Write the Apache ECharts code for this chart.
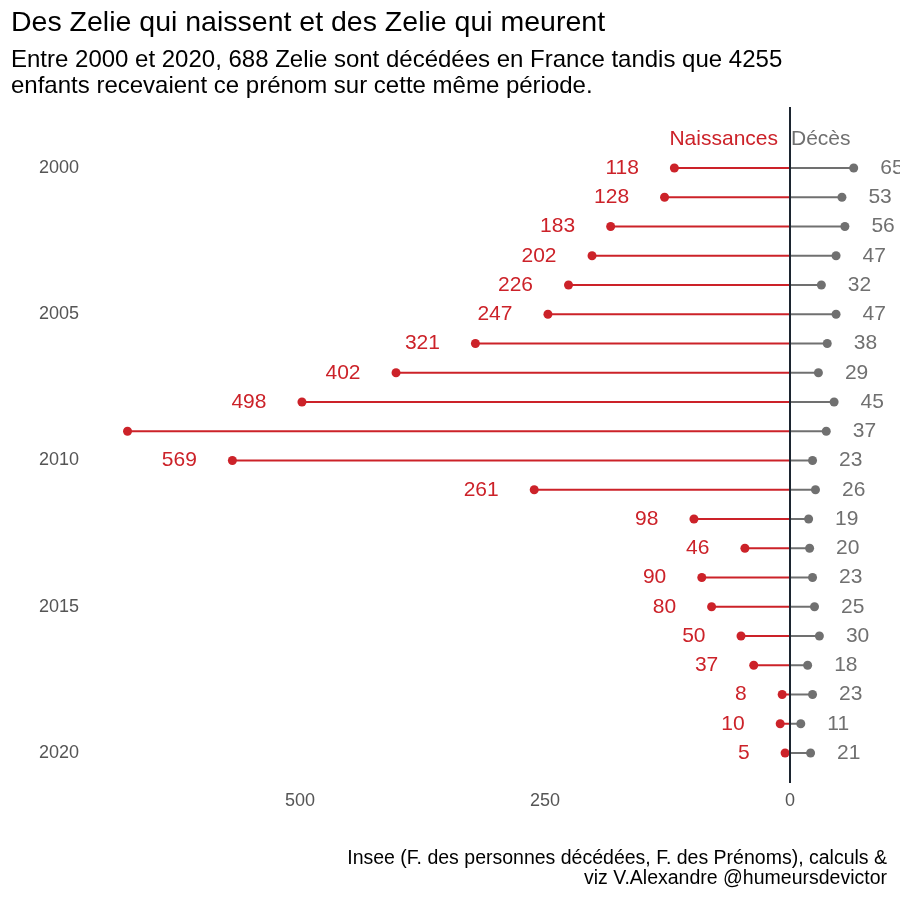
<!DOCTYPE html>
<html>
<head>
<meta charset="UTF-8">
<title>Zelie</title>
<script src="https://cdn.jsdelivr.net/npm/echarts@6/dist/echarts.min.js"></script>
<style>
  html, body { margin: 0; padding: 0; background: #fff; }
  #main { width: 900px; height: 900px; }
</style>
</head>
<body>
<div id="main"></div>
<script>
// donnees
var years = [2000, 2001, 2002, 2003, 2004, 2005, 2006, 2007, 2008, 2009, 2010,
             2011, 2012, 2013, 2014, 2015, 2016, 2017, 2018, 2019, 2020];
var naissances = [118, 128, 183, 202, 226, 247, 321, 402, 498, 676, 569,
                  261, 98, 46, 90, 80, 50, 37, 8, 10, 5];
var deces = [65, 53, 56, 47, 32, 47, 38, 29, 45, 37, 23,
             26, 19, 20, 23, 25, 30, 18, 23, 11, 21];
var yearTicks = [2000, 2005, 2010, 2015, 2020];
var xTicks = [-500, -250, 0];

var RED = '#cc2229';
var GREY = '#707070';
var FONT = '"Liberation Sans", Arial, sans-serif';

var myChart = echarts.init(document.getElementById('main'));

var segData = [];
var birthPts = [];
var deathPts = [];
for (var i = 0; i < years.length; i++) {
    segData.push([years[i], -naissances[i], deces[i]]);
    birthPts.push({
        value: [-naissances[i], years[i]],
        // le label qui sort du panneau est supprime (comme dans l'original)
        label: { show: naissances[i] < 600 }
    });
    deathPts.push([deces[i], years[i]]);
}

var option = {
    backgroundColor: '#fff',
    animation: false,
    title: {
        text: 'Des Zelie qui naissent et des Zelie qui meurent',
        subtext: 'Entre 2000 et 2020, 688 Zelie sont décédées en France tandis que 4255\nenfants recevaient ce prénom sur cette même période.',
        left: 6,
        top: 2,
        itemGap: 8,
        textStyle: { fontFamily: FONT, fontSize: 28.5, fontWeight: 'normal', color: '#000', lineHeight: 32 },
        subtextStyle: { fontFamily: FONT, fontSize: 24, color: '#000', lineHeight: 26 }
    },
    graphic: [{
        type: 'text',
        x: 887,
        y: 849,
        style: {
            text: 'Insee (F. des personnes décédées, F. des Prénoms), calculs &\nviz V.Alexandre @humeursdevictor',
            font: '19.5px ' + FONT,
            fill: '#000',
            align: 'right',
            verticalAlign: 'top',
            lineHeight: 20
        }
    }],
    grid: { left: 55, right: 12, top: 107, bottom: 117 },
    xAxis: {
        type: 'value',
        min: -750,
        max: 100,
        interval: 250,
        axisLine: { show: false },
        axisTick: { show: false },
        splitLine: { show: false },
        axisLabel: {
            customValues: xTicks,
            margin: 9,
            color: '#555',
            fontFamily: FONT,
            fontSize: 18,
            formatter: function (v) { return Math.abs(v); }
        }
    },
    yAxis: {
        type: 'value',
        inverse: true,
        min: 1997.915,
        max: 2021.026,
        axisLine: { show: false },
        axisTick: { show: false },
        splitLine: { show: false },
        axisLabel: {
            customValues: yearTicks,
            align: 'left',
            margin: 16,
            color: '#555',
            fontFamily: FONT,
            fontSize: 18,
            formatter: function (v) { return String(v); }
        }
    },
    series: [
        {
            name: 'segments',
            type: 'custom',
            z: 2,
            data: segData,
            renderItem: function (params, api) {
                var y = api.value(0);
                var p0 = api.coord([0, y]);
                var pb = api.coord([api.value(1), y]);
                var pd = api.coord([api.value(2), y]);
                return {
                    type: 'group',
                    children: [
                        { type: 'line', shape: { x1: pb[0], y1: pb[1], x2: p0[0], y2: p0[1] },
                          style: { stroke: RED, lineWidth: 2 } },
                        { type: 'line', shape: { x1: p0[0], y1: p0[1], x2: pd[0], y2: pd[1] },
                          style: { stroke: GREY, lineWidth: 2 } }
                    ]
                };
            }
        },
        {
            name: 'entete',
            type: 'scatter',
            z: 3,
            symbolSize: 0,
            itemStyle: { opacity: 1 },
            data: [
                { value: [0, 1999], label: { show: true, position: 'left', distance: 12, color: RED, formatter: 'Naissances' } },
                { value: [0, 1999], label: { show: true, position: 'right', distance: 1, color: GREY, formatter: 'Décès' } }
            ],
            label: { fontFamily: FONT, fontSize: 21 },
            markLine: {
                silent: true,
                symbol: 'none',
                label: { show: false },
                lineStyle: { color: '#1c2530', width: 2, type: 'solid' },
                data: [{ xAxis: 0 }]
            }
        },
        {
            name: 'Naissances',
            type: 'scatter',
            z: 4,
            symbolSize: 9,
            itemStyle: { color: RED, opacity: 1 },
            data: birthPts,
            label: {
                position: 'left',
                distance: 31,
                color: RED,
                fontFamily: FONT,
                fontSize: 21,
                formatter: function (p) { return Math.abs(p.value[0]); }
            }
        },
        {
            name: 'Décès',
            type: 'scatter',
            z: 4,
            symbolSize: 9,
            itemStyle: { color: GREY, opacity: 1 },
            data: deathPts,
            label: {
                show: true,
                position: 'right',
                distance: 22,
                color: GREY,
                fontFamily: FONT,
                fontSize: 21,
                formatter: function (p) { return p.value[0]; }
            }
        }
    ]
};
myChart.setOption(option);
</script>
</body>
</html>
